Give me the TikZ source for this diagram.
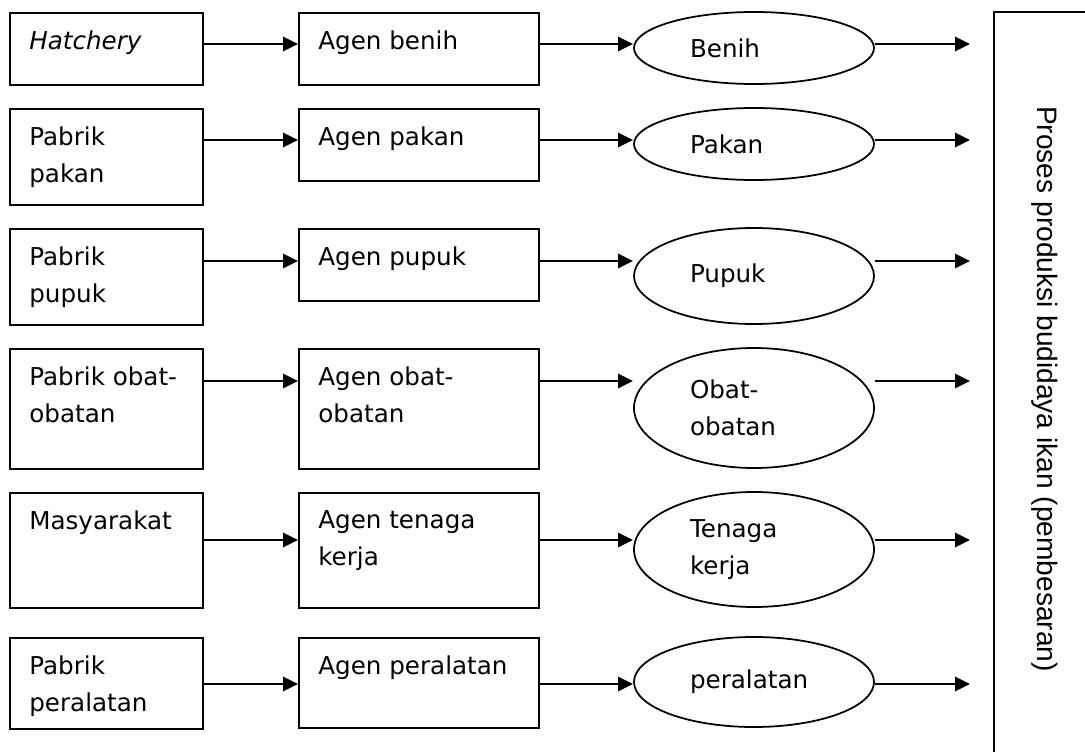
\documentclass[tikz,border=0pt]{standalone}
\usepackage{fontspec}
\setmainfont{DejaVu Sans}
\newfontfamily\judulfont{Liberation Sans}
\usetikzlibrary{arrows.meta,positioning,shapes.geometric}
\tikzset{
  kotak/.style={draw,line width=1.3pt,anchor=north west,inner sep=0pt},
  kotakA/.style={kotak,minimum width=3.86cm},
  kotakB/.style={kotak,minimum width=4.8cm},
  oval/.style={ellipse,draw,line width=1pt,minimum width=4.8cm,text width=2.56cm,align=left,inner sep=0pt},
  teks/.style={inner sep=0pt,align=left},
  panah/.style={line width=1.7pt,-{Triangle[length=.3cm,width=.28cm]}}
}
\begin{document}
\begin{tikzpicture}[font=\fontsize{14}{21}\selectfont]
\useasboundingbox (0,0) rectangle (21.7,-15.04);
\clip (0,0) rectangle (21.7,-15.04);
% baris 1: benih
\node[kotakA,minimum height=1.44cm] (pb1) at (0.18,-0.24) {};\node[kotakB,minimum height=1.44cm] (ag1) at (5.96,-0.24) {};
\node[oval,minimum height=1.44cm] (in1) at (15.08,-0.96) {Benih};\coordinate (u1) at (19.4,-0.88);
\node[teks,below right=.37cm and .4cm of pb1.north west] (tpb1) {\itshape Hatchery};
\node[teks,below right=.37cm and .4cm of ag1.north west] (tag1) {Agen benih};
% baris 2: pakan
\node[kotakA,minimum height=1.92cm] (pb2) at (0.18,-2.16) {};\node[kotakB,minimum height=1.44cm] (ag2) at (5.96,-2.16) {};
\node[oval,minimum height=1.44cm] (in2) at (15.08,-2.88) {Pakan};\coordinate (u2) at (19.4,-2.8);
\node[teks,below right=.37cm and .4cm of pb2.north west] (tpb2) {Pabrik\\pakan};
\node[teks,below right=.37cm and .4cm of ag2.north west] (tag2) {Agen pakan};
% baris 3: pupuk
\node[kotakA,minimum height=1.92cm] (pb3) at (0.18,-4.56) {};\node[kotakB,minimum height=1.44cm] (ag3) at (5.96,-4.56) {};
\node[oval,minimum height=1.92cm] (in3) at (15.08,-5.52) {Pupuk};\coordinate (u3) at (19.4,-5.22);
\node[teks,below right=.37cm and .4cm of pb3.north west] (tpb3) {Pabrik\\pupuk};
\node[teks,below right=.37cm and .4cm of ag3.north west] (tag3) {Agen pupuk};
% baris 4: obat-obatan
\node[kotakA,minimum height=2.4cm] (pb4) at (0.18,-6.96) {};\node[kotakB,minimum height=2.4cm] (ag4) at (5.96,-6.96) {};
\node[oval,minimum height=2.4cm] (in4) at (15.08,-8.16) {Obat-\\obatan};\coordinate (u4) at (19.4,-7.62);
\node[teks,below right=.37cm and .4cm of pb4.north west] (tpb4) {Pabrik obat-\\obatan};
\node[teks,below right=.37cm and .4cm of ag4.north west] (tag4) {Agen obat-\\obatan};
% baris 5: tenaga kerja
\node[kotakA,minimum height=2.3cm] (pb5) at (0.18,-9.84) {};\node[kotakB,minimum height=2.3cm] (ag5) at (5.96,-9.84) {};
\node[oval,minimum height=2.3cm] (in5) at (15.08,-10.99) {Tenaga\\kerja};\coordinate (u5) at (19.4,-10.8);
\node[teks,below right=.37cm and .4cm of pb5.north west] (tpb5) {Masyarakat};
\node[teks,below right=.37cm and .4cm of ag5.north west] (tag5) {Agen tenaga\\kerja};
% baris 6: peralatan
\node[kotakA,minimum height=1.82cm] (pb6) at (0.18,-12.74) {};\node[kotakB,minimum height=1.8cm] (ag6) at (5.96,-12.74) {};
\node[oval,minimum height=1.8cm] (in6) at (15.08,-13.64) {peralatan};\coordinate (u6) at (19.4,-13.68);
\node[teks,below right=.37cm and .4cm of pb6.north west] (tpb6) {Pabrik\\peralatan};
\node[teks,below right=.37cm and .4cm of ag6.north west] (tag6) {Agen peralatan};
% panah
\foreach \i in {1,...,6}{
  \draw[panah] (pb\i.east|-u\i) -- (ag\i.west|-u\i);
  \draw[panah] (ag\i.east|-u\i) -- (in\i.west|-u\i);
  \draw[panah] (in\i.east|-u\i) -- (u\i);
}
% proses
\draw[line width=1.1pt] (19.88,-0.24) rectangle (23,-16);
\node[rotate=-90,font=\judulfont\fontsize{16}{19}\selectfont] (proses) at (20.9,-7.78) {Proses produksi budidaya ikan (pembesaran)};
\end{tikzpicture}
\end{document}
